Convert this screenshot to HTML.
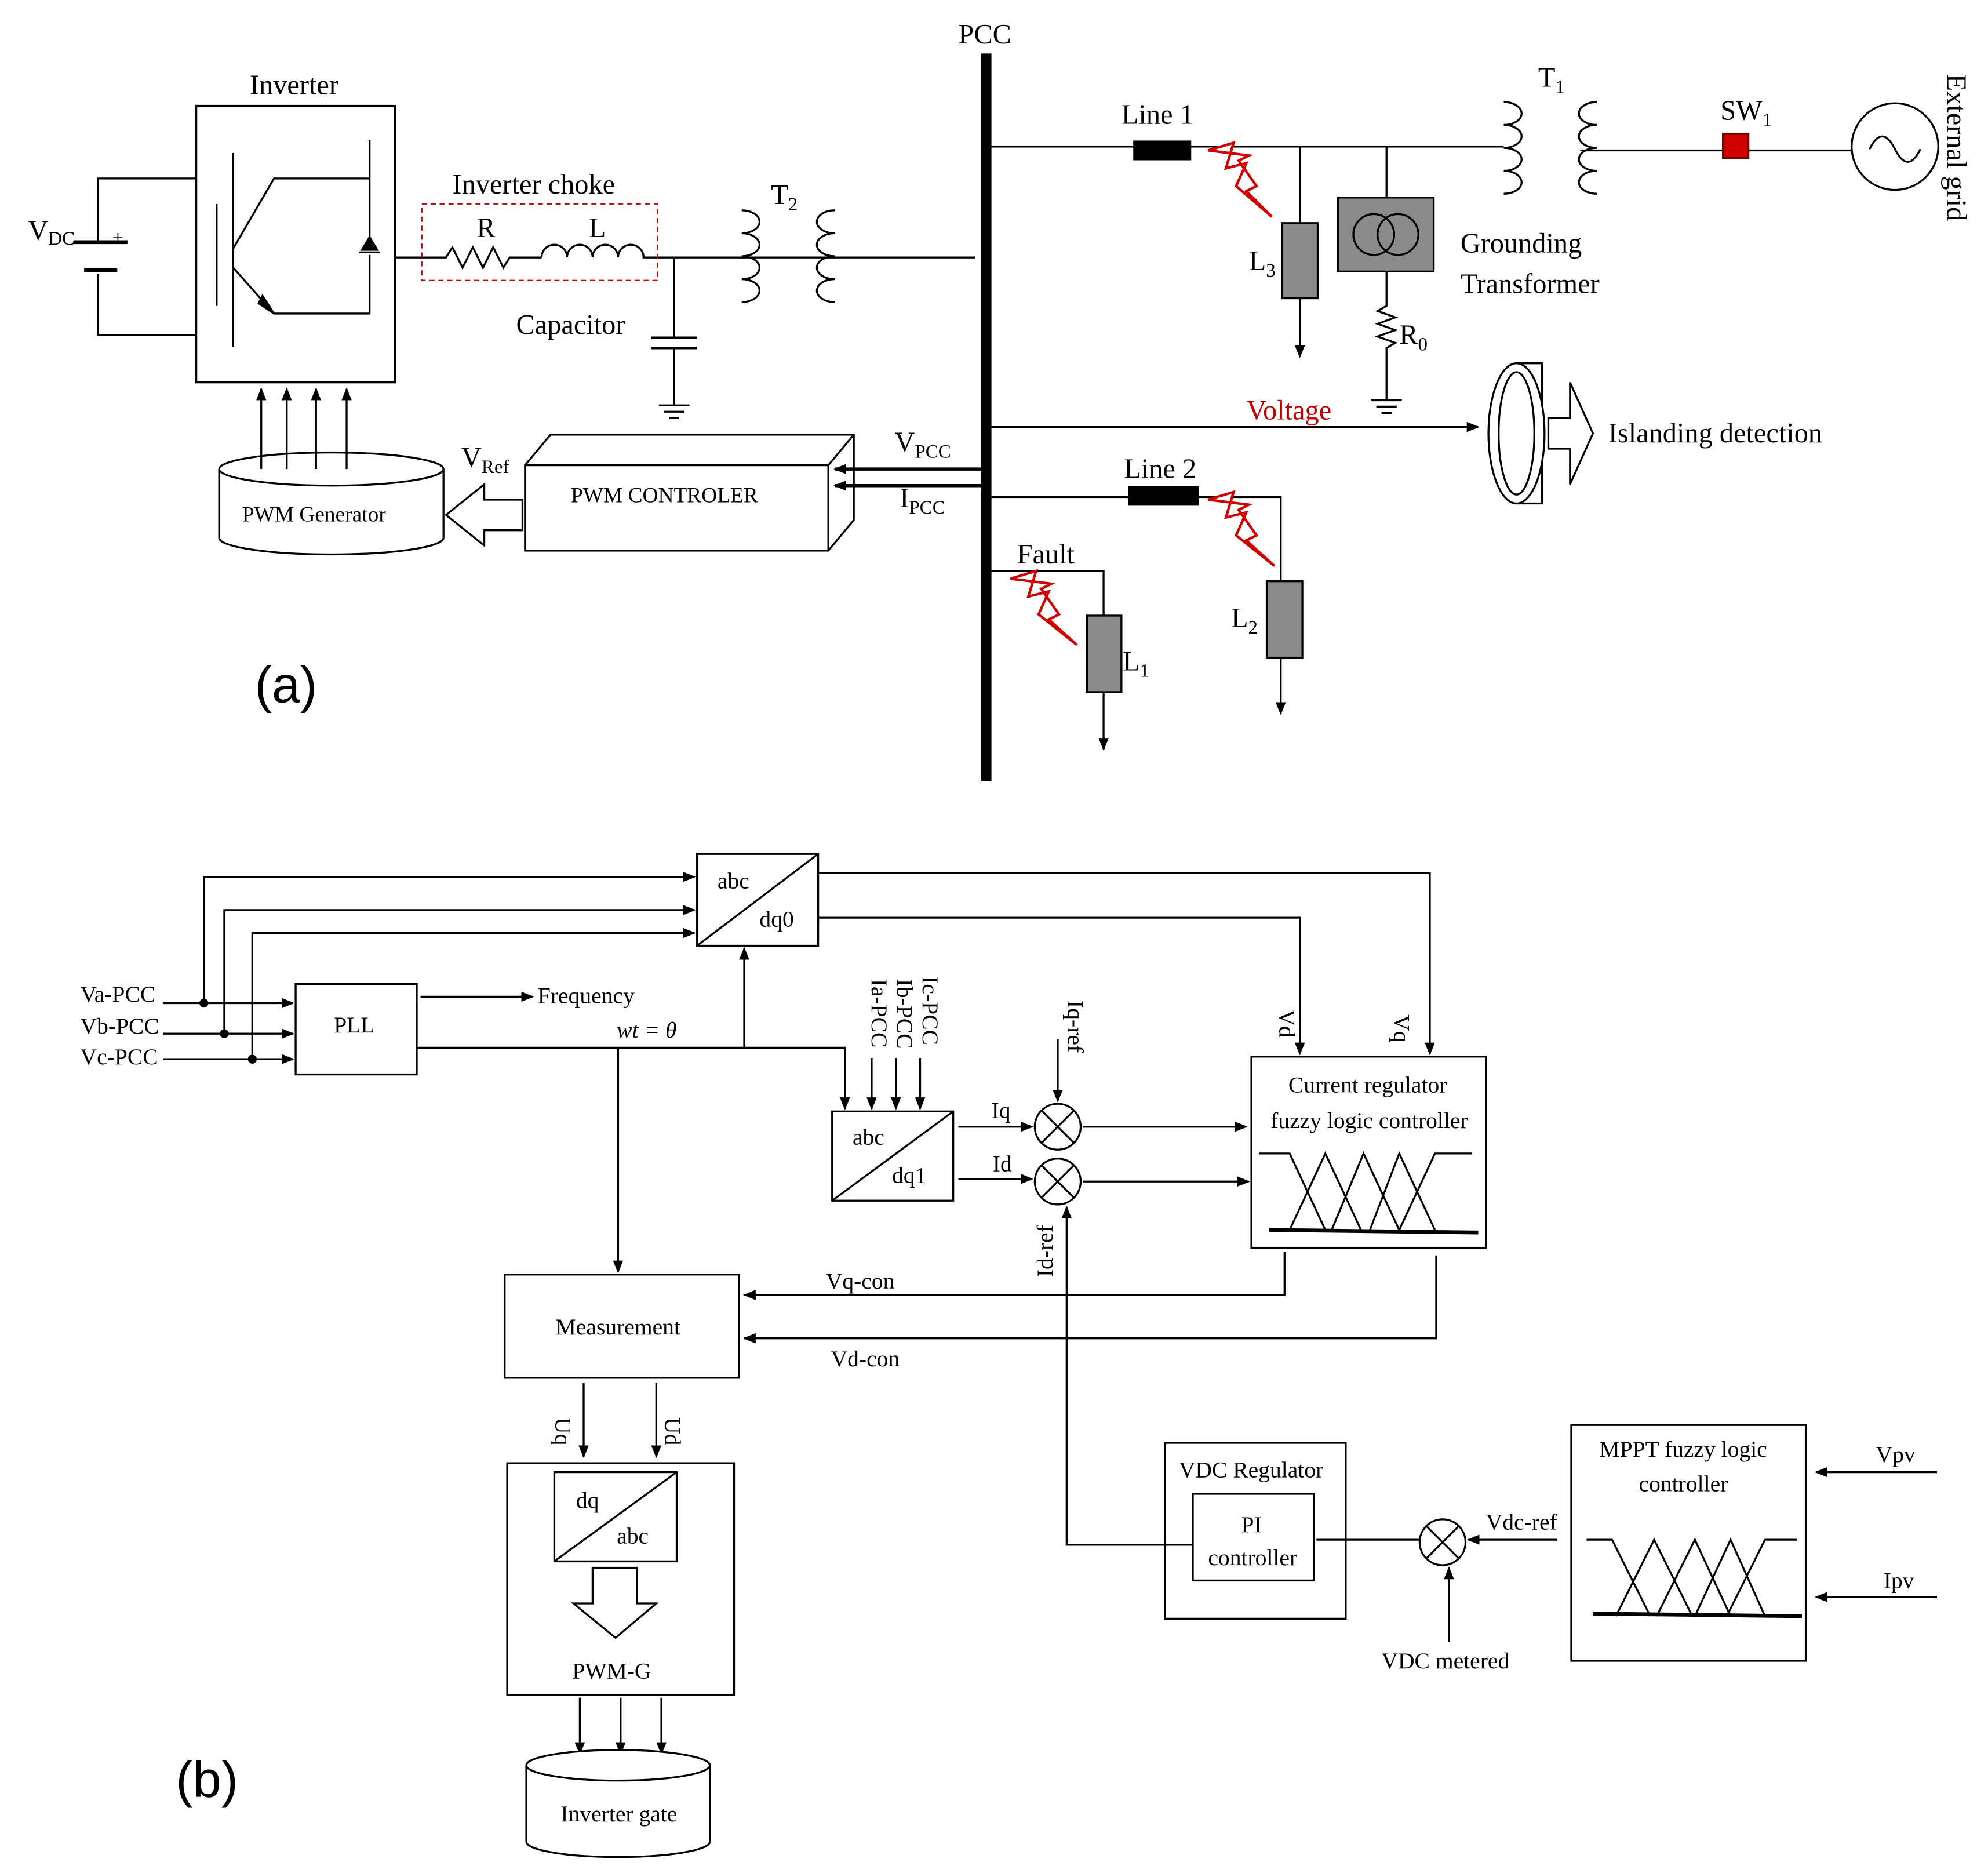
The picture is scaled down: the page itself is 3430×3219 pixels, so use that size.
<!DOCTYPE html>
<html><head><meta charset="utf-8"><style>html,body{margin:0;padding:0;background:#fff}svg{display:block}</style></head>
<body>
<svg width="3430" height="3219" viewBox="0 0 1560 1464" xmlns="http://www.w3.org/2000/svg" font-family="Liberation Serif, serif" fill="none" stroke="#000" stroke-width="1.5">
<defs>
<marker id="a" markerWidth="10" markerHeight="10" refX="9" refY="5" orient="auto" markerUnits="userSpaceOnUse"><path d="M0,1 L10,5 L0,9 z" fill="#000" stroke="none"/></marker>
</defs>
<rect x="0" y="0" width="1560" height="1464" fill="#fff" stroke="none"/>
<!-- ===== (a) ===== -->
<line x1="774" y1="42" x2="774" y2="613" stroke-width="8"/>
<g fill="#000" stroke="none" font-size="22">
<text x="752" y="34">PCC</text>
<text x="196" y="74">Inverter</text>
<text x="22" y="188">V<tspan font-size="15" dy="4">DC</tspan></text>
<text x="355" y="152">Inverter choke</text>
<text x="374" y="186">R</text><text x="462" y="186">L</text>
<text x="405" y="262">Capacitor</text>
<text x="605" y="160">T<tspan font-size="15" dy="5">2</tspan></text>
<text x="362" y="366">V<tspan font-size="15" dy="5">Ref</tspan></text>
<text x="702" y="354">V<tspan font-size="15" dy="5">PCC</tspan></text>
<text x="706" y="398">I<tspan font-size="15" dy="5">PCC</tspan></text>
<text x="880" y="97">Line 1</text>
<text x="1207" y="68">T<tspan font-size="15" dy="5">1</tspan></text>
<text x="1350" y="94">SW<tspan font-size="15" dy="5">1</tspan></text>
<text x="980" y="212">L<tspan font-size="15" dy="5">3</tspan></text>
<text x="1146" y="198">Grounding</text>
<text x="1146" y="230">Transformer</text>
<text x="1098" y="270">R<tspan font-size="15" dy="5">0</tspan></text>
<text x="978" y="329" fill="#c00000">Voltage</text>
<text x="1262" y="347">Islanding detection</text>
<text x="882" y="375">Line 2</text>
<text x="798" y="442">Fault</text>
<text x="966" y="492">L<tspan font-size="15" dy="5">2</tspan></text>
<text x="881" y="526">L<tspan font-size="15" dy="5">1</tspan></text>
<text x="200" y="551" font-size="40" font-family="Liberation Sans, sans-serif">(a)</text>
<text x="0" y="0" transform="translate(1528,58) rotate(90)">External grid</text>
<text x="448" y="394" font-size="17">PWM CONTROLER</text>
<text x="190" y="409" font-size="17">PWM Generator</text>
</g>
<path d="M154,140 H77 V190 M77,215 V263 H154"/>
<line x1="58" y1="190" x2="100" y2="190" stroke-width="3"/>
<line x1="66" y1="212" x2="92" y2="212" stroke-width="3"/>
<text x="88" y="192" font-size="16" fill="#000" stroke="none">+</text>
<rect x="154" y="83" width="156" height="217"/>
<path d="M170,160 V240 M183,120 V272 M183,195 L215,140 H290 V194 M183,210 L215,246 H290 V200 M290,140 V110"/>
<path d="M203,238 L215,246 L206,232 z" fill="#000"/>
<path d="M282,198 L298,198 M284,196 L290,186 L296,196 z" fill="#000"/>
<path d="M310,202 H350 l5,-8 l8,16 l8,-16 l8,16 l8,-16 l8,16 l5,-8 H425"/>
<path d="M425,202 a10,10 0 0 1 20,0 a10,10 0 0 1 20,0 a10,10 0 0 1 20,0 a10,10 0 0 1 20,0 H765"/>
<rect x="331" y="160" width="185" height="60" stroke="#c00000" stroke-dasharray="4,3" stroke-width="1"/>
<path d="M529,202 V265 M529,273 V318"/>
<line x1="511" y1="265" x2="547" y2="265" stroke-width="2"/>
<line x1="511" y1="273" x2="547" y2="273" stroke-width="2"/>
<path d="M517,318 H541 M521,323 H537 M525,328 H533"/>
<path d="M582,165 a14,9 0 0 1 0,18 a14,9 0 0 1 0,18 a14,9 0 0 1 0,18 a14,9 0 0 1 0,18"/>
<path d="M655,165 a14,9 0 0 0 0,18 a14,9 0 0 0 0,18 a14,9 0 0 0 0,18 a14,9 0 0 0 0,18"/>
<path d="M172,368 V422 M348,368 V422"/>
<ellipse cx="260" cy="368" rx="88" ry="13" fill="#fff"/>
<path d="M172,422 a88,13 0 0 0 176,0"/>
<g marker-end="url(#a)">
<line x1="205" y1="368" x2="205" y2="305"/><line x1="225" y1="368" x2="225" y2="305"/>
<line x1="248" y1="368" x2="248" y2="305"/><line x1="272" y1="368" x2="272" y2="305"/>
</g>
<rect x="412" y="365" width="238" height="67"/>
<path d="M412,365 L432,341 H670 V408 L650,432 M650,365 L670,341"/>
<path d="M410,392 H380 V380 L350,404 L380,428 V416 H410 z" fill="#fff"/>
<g marker-end="url(#a)" stroke-width="2.5">
<line x1="770" y1="368" x2="655" y2="368"/><line x1="770" y1="381" x2="655" y2="381"/>
</g>
<path d="M778,115 H1180"/>
<rect x="890" y="111" width="44" height="14" fill="#000"/>
<path d="M1020,115 V175"/>
<path d="M1020,234 V280" marker-end="url(#a)"/>
<rect x="1006" y="175" width="28" height="59" fill="#8a8a8a"/>
<path d="M1088,115 V155 M1088,213 V240 l-7,4 l14,5 l-14,5 l14,5 l-14,5 l14,5 l-7,4 V314 M1076,314 H1100 M1080,319 H1096 M1084,324 H1092"/>
<rect x="1050" y="155" width="75" height="58" fill="#8a8a8a"/>
<circle cx="1078" cy="184" r="16"/><circle cx="1097" cy="184" r="16"/>
<path d="M1180,80 a14,9 0 0 1 0,18 a14,9 0 0 1 0,18 a14,9 0 0 1 0,18 a14,9 0 0 1 0,18"/>
<path d="M1253,80 a14,9 0 0 0 0,18 a14,9 0 0 0 0,18 a14,9 0 0 0 0,18 a14,9 0 0 0 0,18"/>
<path d="M1240,118 H1453"/>
<rect x="1352" y="105" width="20" height="19" fill="#d00000" stroke="#600"/>
<circle cx="1487" cy="115" r="34"/>
<path d="M1467,117 q10,-20 20,0 t20,0"/>
<path d="M778,335 H1160" marker-end="url(#a)"/>
<path d="M1190,285 H1210 V395 H1190"/>
<ellipse cx="1190" cy="340" rx="22" ry="55" fill="#fff"/>
<ellipse cx="1190" cy="340" rx="14" ry="48"/>
<path d="M1215,328 H1232 V300 L1250,340 L1232,380 V352 H1215 z" fill="#fff"/>
<path d="M778,390 H1005 V456"/>
<path d="M1005,516 V560" marker-end="url(#a)"/>
<rect x="886" y="382" width="54" height="14" fill="#000"/>
<rect x="994" y="456" width="28" height="60" fill="#8a8a8a"/>
<path d="M778,448 H866 V483"/>
<path d="M866,543 V588" marker-end="url(#a)"/>
<rect x="853" y="483" width="27" height="60" fill="#8a8a8a"/>
<g stroke="#d00000" fill="#fff" stroke-width="2">
<path d="M948,118 L968,112 L962,132 L978,128 L970,146 L998,170 L978,150 L986,146 L972,126 L980,122 z"/>
<path d="M948,392 L968,386 L962,406 L978,402 L970,420 L1000,444 L978,424 L986,420 L972,400 L980,396 z"/>
<path d="M793,454 L813,448 L807,468 L823,464 L815,482 L845,506 L823,486 L831,482 L817,462 L825,458 z"/>
</g>
<!-- ===== (b) ===== -->
<g fill="#000" stroke="none" font-size="18">
<text x="563" y="697">abc</text><text x="596" y="727">dq0</text>
<text x="63" y="786">Va-PCC</text><text x="63" y="811">Vb-PCC</text><text x="63" y="835">Vc-PCC</text>
<text x="262" y="810">PLL</text>
<text x="422" y="787">Frequency</text>
<text x="484" y="814" font-style="italic">wt = θ</text>
<text x="669" y="898">abc</text><text x="700" y="928">dq1</text>
<text x="778" y="877">Iq</text><text x="779" y="919">Id</text>
<text x="1011" y="857">Current regulator</text>
<text x="997" y="885">fuzzy logic controller</text>
<text x="648" y="1011">Vq-con</text>
<text x="652" y="1072">Vd-con</text>
<text x="436" y="1047">Measurement</text>
<text x="452" y="1183">dq</text><text x="484" y="1211">abc</text>
<text x="449" y="1317">PWM-G</text>
<text x="440" y="1429">Inverter gate</text>
<text x="925" y="1159">VDC Regulator</text>
<text x="974" y="1202">PI</text>
<text x="948" y="1228">controller</text>
<text x="1166" y="1200">Vdc-ref</text>
<text x="1084" y="1309">VDC metered</text>
<text x="1255" y="1143">MPPT fuzzy logic</text>
<text x="1286" y="1170">controller</text>
<text x="1472" y="1147">Vpv</text>
<text x="1478" y="1246">Ipv</text>
<text x="138" y="1410" font-size="40" font-family="Liberation Sans, sans-serif">(b)</text>
<text transform="translate(684,768) rotate(90)">Ia-PCC</text>
<text transform="translate(704,768) rotate(90)">Ib-PCC</text>
<text transform="translate(724,766) rotate(90)">Ic-PCC</text>
<text transform="translate(838,785) rotate(90)">Iq-ref</text>
<text transform="translate(826,1002) rotate(-90)">Id-ref</text>
<text transform="translate(1004,792) rotate(90)">Vd</text>
<text transform="translate(1094,796) rotate(90)">Vq</text>
<text transform="translate(436,1112) rotate(90)">Uq</text>
<text transform="translate(522,1112) rotate(90)">Ud</text>
</g>
<rect x="547" y="670" width="95" height="72"/><path d="M547,742 L642,670"/>
<rect x="232" y="772" width="95" height="71"/>
<g marker-end="url(#a)">
<line x1="128" y1="787" x2="230" y2="787"/><line x1="128" y1="811" x2="230" y2="811"/><line x1="128" y1="831" x2="230" y2="831"/>
<path d="M160,787 V688 H545"/><path d="M176,811 V714 H545"/><path d="M198,831 V732 H545"/>
<line x1="330" y1="782" x2="418" y2="782"/>
<path d="M327,822 H663 V870"/>
<line x1="584" y1="822" x2="584" y2="744"/>
<line x1="485" y1="822" x2="485" y2="998"/>
<line x1="684" y1="830" x2="684" y2="870"/><line x1="703" y1="830" x2="703" y2="870"/><line x1="722" y1="830" x2="722" y2="870"/>
<line x1="752" y1="884" x2="810" y2="884"/><line x1="752" y1="925" x2="810" y2="925"/>
<line x1="830" y1="815" x2="830" y2="864"/>
<path d="M936,1212 H837 V947"/>
<line x1="850" y1="884" x2="978" y2="884"/><line x1="850" y1="927" x2="980" y2="927"/>
<path d="M642,685 H1122 V827"/>
<path d="M642,720 H1020 V827"/>
<path d="M1008,982 V1016 H584"/>
<path d="M1127,985 V1050 H584"/>
<line x1="458" y1="1085" x2="458" y2="1143"/><line x1="515" y1="1085" x2="515" y2="1143"/>
<line x1="455" y1="1332" x2="455" y2="1376"/><line x1="487" y1="1332" x2="487" y2="1376"/><line x1="519" y1="1332" x2="519" y2="1376"/>
<line x1="1222" y1="1208" x2="1152" y2="1208"/>
<line x1="1137" y1="1288" x2="1137" y2="1230"/>
<line x1="1520" y1="1155" x2="1425" y2="1155"/><line x1="1520" y1="1253" x2="1425" y2="1253"/>
</g>
<g fill="#000" stroke="none"><circle cx="160" cy="787" r="3.5"/><circle cx="176" cy="811" r="3.5"/><circle cx="198" cy="831" r="3.5"/></g>
<rect x="653" y="872" width="95" height="70"/><path d="M653,942 L748,872"/>
<circle cx="830" cy="884" r="18"/><circle cx="830" cy="927" r="18"/>
<path d="M817,871 L843,897 M843,871 L817,897 M817,914 L843,940 M843,914 L817,940"/>
<rect x="982" y="829" width="184" height="150"/>
<path d="M988,905 H1012 L1040,965 M1012,965 L1040,905 L1068,965 M1045,965 L1070,905 L1098,965 M1075,965 L1098,905 L1126,965 M1098,965 L1126,905 H1155"/>
<line x1="996" y1="965" x2="1160" y2="967" stroke-width="3"/>
<rect x="396" y="1000" width="184" height="81"/>
<rect x="398" y="1148" width="178" height="182"/>
<rect x="435" y="1155" width="96" height="70"/><path d="M435,1225 L531,1155"/>
<path d="M465,1230 H500 V1258 H515 L483,1285 L450,1258 H465 z" fill="#fff"/>
<path d="M413,1385 V1445 M557,1385 V1445"/>
<ellipse cx="485" cy="1385" rx="72" ry="12" fill="#fff"/>
<path d="M413,1445 a72,12 0 0 0 144,0"/>
<rect x="914" y="1132" width="142" height="138"/>
<rect x="936" y="1172" width="95" height="68"/>
<circle cx="1132" cy="1210" r="18"/>
<path d="M1119,1197 L1145,1223 M1145,1197 L1119,1223"/>
<path d="M1114,1208 H1033"/>
<rect x="1233" y="1118" width="184" height="185"/>
<path d="M1245,1208 H1265 L1295,1268 M1268,1268 L1298,1208 L1328,1268 M1300,1268 L1330,1208 L1358,1268 M1330,1268 L1358,1208 L1385,1268 M1355,1268 L1385,1208 H1410"/>
<line x1="1250" y1="1266" x2="1414" y2="1268" stroke-width="3"/>
</svg>
</body></html>
